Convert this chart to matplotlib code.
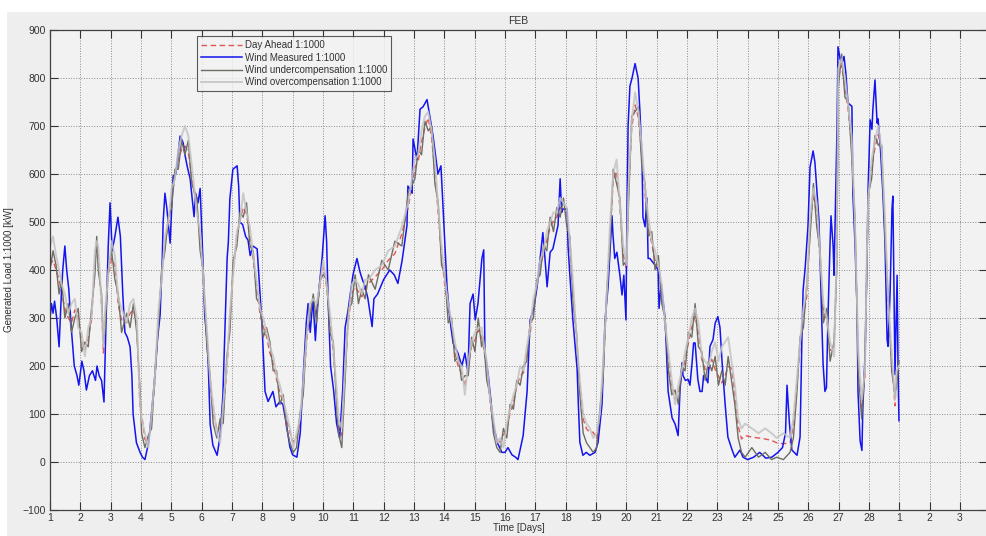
import matplotlib.pyplot as plt
from matplotlib.patches import Rectangle

plt.rcParams['font.family'] = ['Liberation Sans', 'DejaVu Sans']

# Wind measured (1:1000 scale), day of month vs kW
meas_day = [1.00, 1.05, 1.10, 1.15, 1.22, 1.30, 1.36, 1.42, 1.49, 1.55, 1.62, 1.70, 1.80, 1.89, 1.95,
            2.05, 2.12, 2.20, 2.30, 2.40, 2.50, 2.55, 2.62, 2.70, 2.78, 2.85, 2.92, 2.98, 3.05, 3.14,
            3.24, 3.32, 3.40, 3.47, 3.55, 3.64, 3.70, 3.74, 3.85, 3.97, 4.05, 4.13, 4.25, 4.36, 4.46,
            4.55, 4.63, 4.70, 4.73, 4.79, 4.85, 4.96, 5.06, 5.15, 5.29, 5.39, 5.45, 5.52, 5.62, 5.75,
            5.80, 5.88, 5.95, 6.04, 6.10, 6.18, 6.22, 6.28, 6.37, 6.51, 6.61, 6.70, 6.78, 6.84, 6.88,
            6.93, 7.03, 7.17, 7.22, 7.26, 7.35, 7.45, 7.53, 7.60, 7.69, 7.83, 7.92, 7.99, 8.09, 8.19,
            8.35, 8.45, 8.58, 8.68, 8.81, 8.91, 9.00, 9.14, 9.25, 9.35, 9.45, 9.51, 9.58, 9.67, 9.75,
            9.82, 9.97, 10.07, 10.12, 10.17, 10.25, 10.35, 10.45, 10.55, 10.65, 10.73, 10.83, 10.90,
            10.99, 11.12, 11.22, 11.30, 11.39, 11.48, 11.62, 11.68, 11.80, 12.00, 12.20, 12.35, 12.47,
            12.61, 12.77, 12.80, 12.94, 12.97, 13.10, 13.20, 13.30, 13.43, 13.53, 13.63, 13.69, 13.79,
            13.89, 13.96, 14.09, 14.19, 14.29, 14.45, 14.58, 14.68, 14.78, 14.85, 14.95, 15.02, 15.11,
            15.24, 15.30, 15.34, 15.44, 15.55, 15.61, 15.75, 15.90, 16.00, 16.10, 16.23, 16.35, 16.43,
            16.60, 16.73, 16.83, 16.95, 17.06, 17.16, 17.25, 17.32, 17.39, 17.49, 17.58, 17.75, 17.82,
            17.87, 17.91, 18.05, 18.08, 18.14, 18.24, 18.38, 18.42, 18.47, 18.57, 18.68, 18.80, 18.97,
            19.07, 19.20, 19.30, 19.40, 19.53, 19.56, 19.62, 19.69, 19.79, 19.86, 19.92, 19.99, 20.02,
            20.06, 20.12, 20.19, 20.29, 20.39, 20.45, 20.52, 20.55, 20.62, 20.68, 20.72, 20.78, 20.95,
            21.05, 21.08, 21.15, 21.28, 21.38, 21.51, 21.61, 21.71, 21.77, 21.84, 21.87, 21.95, 22.04,
            22.10, 22.17, 22.22, 22.27, 22.32, 22.36, 22.43, 22.50, 22.55, 22.60, 22.69, 22.76, 22.86,
            22.93, 23.02, 23.09, 23.16, 23.26, 23.35, 23.49, 23.58, 23.75, 23.85, 24.00, 24.20, 24.40,
            24.60, 24.80, 25.00, 25.15, 25.25, 25.30, 25.38, 25.46, 25.63, 25.73, 25.79, 25.83, 25.90,
            25.96, 25.99, 26.06, 26.16, 26.22, 26.29, 26.35, 26.39, 26.45, 26.49, 26.55, 26.60, 26.65,
            26.72, 26.75, 26.82, 26.85, 26.90, 26.95, 26.98, 27.05, 27.11, 27.18, 27.24, 27.31, 27.44,
            27.47, 27.54, 27.61, 27.64, 27.71, 27.77, 27.80, 27.87, 27.94, 27.97, 28.04, 28.10, 28.13,
            28.20, 28.27, 28.30, 28.37, 28.46, 28.53, 28.60, 28.63, 28.70, 28.76, 28.79, 28.86, 28.93,
            28.96, 28.99]
meas_kw = [300, 330, 310, 335, 300, 240, 330, 400, 450, 400, 360, 280, 200, 180, 160,
           210, 190, 150, 180, 190, 170, 200, 180, 170, 125, 300, 450, 540, 440, 470,
           510, 470, 350, 270, 260, 240, 180, 100, 40, 20, 10, 5, 40, 110, 180,
           260, 306, 420, 500, 560, 530, 456, 596, 600, 679, 665, 640, 617, 590, 511,
           560, 540, 570, 424, 306, 251, 200, 79, 35, 14, 55, 138, 300, 424, 458,
           548, 610, 617, 575, 499, 495, 470, 462, 430, 450, 444, 355, 286, 147, 126,
           147, 115, 126, 120, 72, 31, 15, 10, 60, 180, 290, 330, 270, 340, 253,
           330, 424, 513, 460, 337, 200, 150, 80, 50, 150, 280, 317, 350,
           390, 424, 396, 380, 365, 341, 282, 340, 350, 380, 400, 390, 372,
           420, 493, 575, 560, 673, 630, 735, 740, 755, 718, 679, 650, 600,
           617, 530, 365, 296, 248, 227, 200, 227, 186, 330, 350, 296, 330,
           424, 442, 227, 186, 120, 79, 40, 20, 20, 30, 15, 10, 5,
           55, 147, 296, 320, 365, 424, 478, 424, 365, 437, 444, 493, 590,
           520, 527, 527, 450, 389, 296, 193, 120, 41, 14, 20, 14, 20,
           41, 120, 296, 365, 513, 475, 424, 437, 389, 348, 389, 296, 500,
           700, 783, 800, 830, 800, 731, 628, 510, 490, 550, 424, 424, 410,
           400, 320, 370, 300, 147, 92, 79, 55, 147, 207, 180, 170, 172,
           160, 207, 248, 248, 207, 172, 147, 147, 180, 180, 165, 241, 255,
           289, 303, 280, 207, 120, 52, 25, 10, 25, 10, 5, 10, 20,
           8, 10, 20, 30, 60, 160, 80, 25, 14, 52, 255, 358, 406,
           462, 490, 615, 648, 624, 561, 506, 424, 286, 203, 147, 155, 300,
           458, 513, 450, 389, 550, 700, 865, 840, 830, 845, 810, 748, 741,
           561, 458, 320, 147, 44, 24, 113, 220, 424, 561, 713, 693, 734,
           796, 706, 715, 665, 561, 458, 255, 241, 355, 527, 554, 182, 389,
           200, 86]

# Day ahead forecast and the two compensated profiles share one time base
fc_day = [1.00, 1.10, 1.20, 1.30, 1.38, 1.49, 1.60, 1.71, 1.82, 1.93, 2.04, 2.15, 2.26, 2.37, 2.48,
          2.54, 2.59, 2.70, 2.76, 2.81, 2.92, 3.03, 3.14, 3.25, 3.36, 3.53, 3.64, 3.75, 3.86, 3.97,
          4.02, 4.13, 4.24, 4.35, 4.46, 4.57, 4.68, 4.79, 4.90, 5.01, 5.12, 5.23, 5.34, 5.45, 5.56,
          5.67, 5.84, 5.95, 6.05, 6.17, 6.28, 6.38, 6.50, 6.61, 6.71, 6.83, 6.93, 7.04, 7.16, 7.26,
          7.37, 7.48, 7.59, 7.70, 7.81, 7.92, 8.03, 8.14, 8.25, 8.36, 8.47, 8.58, 8.69, 8.80, 8.91,
          9.02, 9.13, 9.24, 9.35, 9.46, 9.57, 9.68, 9.79, 9.90, 10.01, 10.12, 10.23, 10.34, 10.45,
          10.51, 10.62, 10.73, 10.84, 10.95, 11.06, 11.17, 11.28, 11.39, 11.50, 11.72, 11.94, 12.15,
          12.37, 12.60, 12.81, 13.03, 13.14, 13.25, 13.36, 13.47, 13.58, 13.69, 13.80, 13.91, 14.02,
          14.13, 14.24, 14.35, 14.46, 14.57, 14.68, 14.79, 14.90, 15.01, 15.12, 15.23, 15.29, 15.40,
          15.51, 15.62, 15.73, 15.84, 15.95, 16.06, 16.17, 16.28, 16.39, 16.50, 16.61, 16.72, 16.83,
          16.94, 17.05, 17.16, 17.27, 17.38, 17.49, 17.60, 17.71, 17.82, 17.93, 18.04, 18.14, 18.25,
          18.36, 18.47, 18.58, 18.69, 18.80, 18.91, 19.02, 19.13, 19.24, 19.35, 19.46, 19.57, 19.68,
          19.79, 19.90, 20.01, 20.07, 20.18, 20.29, 20.40, 20.51, 20.62, 20.73, 20.84, 20.95, 21.06,
          21.17, 21.28, 21.39, 21.50, 21.61, 21.72, 21.83, 21.94, 22.05, 22.16, 22.27, 22.38, 22.49,
          22.60, 22.71, 22.82, 22.93, 23.04, 23.15, 23.26, 23.36, 23.47, 23.58, 23.69, 23.80, 23.92,
          24.14, 24.36, 24.58, 24.79, 24.96, 25.18, 25.40, 25.51, 25.62, 25.73, 25.84, 25.95, 26.06,
          26.17, 26.28, 26.39, 26.50, 26.61, 26.72, 26.85, 26.94, 26.99, 27.10, 27.21, 27.32, 27.43,
          27.54, 27.65, 27.76, 27.87, 27.93, 27.98, 28.09, 28.20, 28.31, 28.42, 28.53, 28.64, 28.75,
          28.86, 28.91, 28.99]
day_ahead = [410, 420, 400, 380, 352, 320, 300, 290, 317, 300, 254, 233, 260, 296, 413,
             455, 430, 327, 227, 290, 386, 424, 410, 327, 296, 290, 310, 317, 290, 110,
             100, 47, 40, 85, 168, 296, 386, 455, 493, 548, 596, 630, 651, 658, 645,
             596, 528, 466, 377, 261, 158, 103, 69, 69, 103, 193, 296, 400, 469, 503,
             530, 517, 470, 420, 365, 310, 282, 261, 227, 206, 172, 144, 124, 89, 62,
             41, 48, 82, 158, 248, 317, 330, 310, 365, 406, 365, 296, 227, 140,
             75, 55, 193, 296, 351, 365, 355, 344, 365, 372, 386, 400, 420,
             434, 475, 530, 613, 627, 668, 696, 717, 675, 606, 517, 434, 365,
             317, 275, 227, 199, 186, 158, 199, 241, 254, 275, 261, 241, 193,
             124, 75, 48, 41, 55, 69, 103, 124, 158, 179, 186, 227, 268,
             324, 365, 406, 434, 462, 489, 503, 510, 530, 525, 517, 448, 351,
             254, 158, 89, 69, 62, 62, 48, 89, 193, 330, 469, 586, 606,
             530, 434, 400, 558, 696, 744, 717, 641, 558, 489, 455, 420, 406,
             351, 282, 214, 158, 131, 144, 179, 214, 248, 282, 303, 268, 214,
             193, 190, 214, 193, 179, 165, 180, 199, 195, 144, 75, 48, 55,
             52, 50, 48, 45, 40, 38, 40, 75, 158, 241, 303, 344, 489,
             558, 517, 420, 317, 296, 234, 230, 420, 800, 827, 779, 731, 662,
             489, 214, 110, 179, 420, 544, 613, 655, 682, 641, 489, 317, 214,
             117, 179, 190]
under_comp = [400, 440, 410, 350, 380, 300, 330, 270, 300, 320, 230, 250, 240, 320, 390,
              470, 400, 350, 250, 270, 400, 440, 380, 350, 270, 310, 280, 330, 270, 150,
              60, 30, 55, 70, 190, 280, 400, 440, 510, 530, 610, 610, 670, 640, 670,
              580, 550, 440, 400, 240, 180, 80, 50, 90, 80, 220, 270, 420, 450, 520,
              510, 540, 450, 440, 340, 330, 260, 280, 250, 190, 190, 120, 140, 70, 40,
              20, 30, 100, 140, 270, 300, 350, 290, 380, 390, 380, 270, 250, 120,
              60, 30, 170, 320, 330, 390, 330, 360, 340, 390, 360, 420, 400,
              460, 450, 560, 590, 650, 640, 710, 690, 700, 580, 540, 410, 390,
              290, 300, 210, 220, 170, 180, 180, 260, 230, 300, 240, 260, 170,
              140, 60, 30, 20, 70, 50, 120, 110, 170, 160, 200, 210, 290,
              300, 380, 390, 450, 440, 510, 480, 530, 510, 550, 490, 470, 330,
              270, 140, 60, 40, 30, 20, 30, 110, 180, 350, 450, 610, 580,
              550, 410, 420, 530, 720, 730, 740, 620, 580, 470, 480, 400, 430,
              330, 300, 190, 140, 150, 120, 200, 190, 270, 260, 330, 240, 230,
              170, 210, 190, 220, 160, 190, 160, 220, 170, 120, 50, 20, 10,
              30, 10, 20, 5, 10, 5, 20, 50, 140, 260, 280, 370, 470,
              580, 490, 440, 290, 320, 210, 250, 400, 780, 850, 760, 750, 640,
              510, 190, 90, 200, 400, 560, 590, 680, 660, 660, 470, 340, 190,
              140, 160, 210]
over_comp = [450, 470, 430, 400, 370, 350, 310, 330, 340, 280, 270, 220, 280, 300, 440,
             460, 450, 330, 240, 310, 390, 460, 430, 340, 320, 290, 330, 340, 300, 120,
             90, 60, 30, 100, 180, 310, 380, 470, 500, 570, 590, 650, 680, 700, 680,
             620, 520, 480, 390, 280, 170, 120, 60, 40, 120, 200, 310, 390, 480, 500,
             560, 520, 490, 430, 380, 320, 300, 270, 240, 220, 180, 160, 130, 100, 70,
             30, 60, 90, 170, 260, 330, 340, 330, 370, 420, 370, 310, 240, 150,
             90, 70, 200, 300, 370, 380, 370, 350, 380, 380, 400, 410, 440,
             450, 490, 540, 630, 640, 690, 720, 730, 690, 630, 530, 450, 380,
             330, 290, 250, 210, 200, 140, 210, 250, 270, 280, 280, 250, 210,
             130, 90, 40, 50, 30, 80, 110, 140, 160, 200, 190, 240, 280,
             340, 370, 420, 440, 480, 500, 520, 520, 550, 540, 530, 460, 370,
             260, 170, 100, 80, 70, 50, 60, 100, 210, 340, 490, 600, 630,
             540, 450, 410, 570, 710, 770, 730, 660, 570, 510, 460, 440, 410,
             370, 290, 230, 170, 120, 160, 190, 230, 260, 300, 320, 290, 220,
             210, 200, 230, 250, 210, 240, 250, 260, 210, 160, 90, 70, 80,
             70, 60, 70, 60, 50, 60, 50, 90, 170, 250, 320, 360, 510,
             570, 540, 430, 330, 300, 250, 220, 440, 820, 840, 800, 740, 680,
             500, 230, 130, 190, 430, 550, 630, 670, 700, 650, 510, 330, 230,
             130, 190, 200]

tick_days = list(range(1, 32))
tick_labels = [str(d) for d in range(1, 29)] + ['1', '2', '3']

fig = plt.figure(figsize=(9.87, 5.36), dpi=100, facecolor='white')
# grey figure panel behind the axes, white margin along the top and left
fig.patches.append(Rectangle((7 / 987, 0), 1, 1 - 12 / 536, transform=fig.transFigure,
                             facecolor='#eeeeee', edgecolor='none', zorder=-10))

ax = fig.add_axes([50 / 987, 1 - 510 / 536, 1 - 50 / 987, 480 / 536])
ax.set_facecolor('#f2f2f2')

ax.plot(fc_day, day_ahead, color='#e25555', ls=(0, (4, 2.5)), lw=1.0, label='Day Ahead 1:1000')
ax.plot(meas_day, meas_kw, color='#1414f0', lw=1.1, label='Wind Measured 1:1000')
ax.plot(fc_day, under_comp, color='#6d6d64', lw=1.0, label='Wind undercompensation 1:1000')
ax.plot(fc_day, over_comp, color='#c4c4c4', lw=1.4, alpha=0.85, label='Wind overcompensation 1:1000')

ax.set_xlim(1, 1 + 937 / 30.33)
ax.set_ylim(-100, 900)
ax.set_xticks(tick_days)
ax.set_xticklabels(tick_labels)
ax.set_yticks(range(-100, 901, 100))
ax.tick_params(direction='in', length=6, width=0.8, labelsize=7.5, colors='#333333',
               top=True, right=True, pad=3)
ax.tick_params(axis='x', pad=2)
ax.grid(True, ls=':', color='#8a8a8a', lw=0.7)
for s in ax.spines.values():
    s.set_color('#404040')
    s.set_linewidth(0.9)

ax.set_title('FEB', fontsize=7.5, color='#333333', pad=4)
ax.set_xlabel('Time [Days]', fontsize=7, color='#333333', labelpad=0)
ax.set_ylabel('Generated Load 1:1000 [kW]', fontsize=7, color='#333333', labelpad=6)

leg = ax.legend(loc='upper left', bbox_to_anchor=(0.157, 0.987), borderaxespad=0,
                fontsize=7, frameon=True, fancybox=False, handlelength=4.2,
                handletextpad=0.3, labelspacing=0.25, borderpad=0.4)
leg.get_frame().set_edgecolor('#333333')
leg.get_frame().set_facecolor('#f2f2f2')
leg.get_frame().set_linewidth(0.8)
for t in leg.get_texts():
    t.set_color('#333333')

fig.savefig('out.png', dpi=100, facecolor=fig.get_facecolor())
